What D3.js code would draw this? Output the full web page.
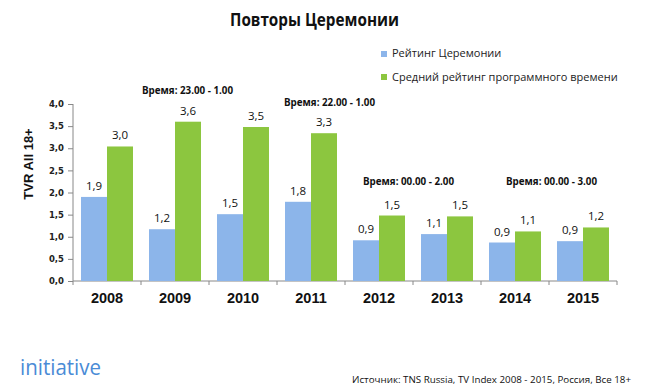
<!DOCTYPE html>
<html><head><meta charset="utf-8">
<script src="https://cdn.jsdelivr.net/npm/d3@7"></script>
<style>body{margin:0;background:#fff}svg{display:block}</style>
</head><body>
<svg id="c" width="652" height="392"></svg>
<script>
const years = ["2008","2009","2010","2011","2012","2013","2014","2015"];
const ceremony = [1.90,1.17,1.51,1.79,0.92,1.06,0.87,0.90];
const slotAvg = [3.04,3.60,3.48,3.34,1.48,1.46,1.12,1.21];
const seriesNames = ["Рейтинг Церемонии","Средний рейтинг программного времени"];
const yTicks = [0,0.5,1,1.5,2,2.5,3,3.5,4];
const noteYears = ["2009","2011","2012","2014"];
const noteTexts = ["Время: 23.00 - 1.00","Время: 22.00 - 1.00","Время: 00.00 - 2.00","Время: 00.00 - 3.00"];
const colors = ["#8cb5ea","#8cc63f"];

const svg = d3.select("#c");
const x = d3.scaleBand().domain(years).range([73,617]).paddingInner(0).paddingOuter(0);
const y = d3.scaleLinear().domain([0,4]).range([281,104]);
const inner = d3.scaleBand().domain([0,1]).range([8, x.bandwidth()-8]);
const fmt = v => d3.format(".1f")(v).replace(".", ",");

// title
svg.append("text").attr("x",314.5).attr("y",26).attr("text-anchor","middle")
  .attr("font-family","'Open Sans', sans-serif").attr("font-weight","bold").attr("font-size",17)
  .attr("textLength",169).attr("lengthAdjust","spacingAndGlyphs")
  .attr("fill","#111").text("Повторы Церемонии");

// y axis
const ya = svg.append("g").attr("transform","translate(73,0)")
  .call(d3.axisLeft(y).tickValues(yTicks).tickSize(5).tickPadding(4).tickFormat(fmt));
ya.select(".domain").attr("stroke","#888").attr("d","M0,104V281");
ya.selectAll(".tick line").attr("stroke","#888");
ya.selectAll("text").attr("font-family","Verdana, 'DejaVu Sans', sans-serif").attr("font-size",8.5)
  .attr("font-weight","bold").attr("fill","#222");

// x axis
const xa = svg.append("g").attr("transform","translate(0,281)")
  .call(d3.axisBottom(x).tickSize(0).tickPadding(12));
xa.select(".domain").attr("stroke","#888").attr("d","M73,0H617");
xa.selectAll("text").attr("font-family","'Liberation Sans', Arial, sans-serif").attr("font-size",14.5)
  .attr("font-weight","bold").attr("fill","#111");
svg.append("g").selectAll("line").data(d3.range(years.length+1)).join("line")
  .attr("x1",i=>73+i*x.bandwidth()).attr("x2",i=>73+i*x.bandwidth())
  .attr("y1",281).attr("y2",285).attr("stroke","#888");

// y title
svg.append("text").attr("transform","translate(33,164) rotate(-90)").attr("text-anchor","middle")
  .attr("font-family","'Liberation Sans', Arial, sans-serif").attr("font-weight","bold").attr("font-size",13)
  .attr("fill","#111").text("TVR All 18+");

// bars
const series = [ceremony, slotAvg];
series.forEach((vals,si)=>{
  const g = svg.append("g");
  g.selectAll("rect").data(vals).join("rect")
    .attr("x",(d,i)=>x(years[i])+inner(si)).attr("width",inner.bandwidth())
    .attr("y",d=>y(d)).attr("height",d=>y(0)-y(d)).attr("fill",colors[si]);
  g.selectAll("text").data(vals).join("text")
    .attr("x",(d,i)=>x(years[i])+inner(si)+inner.bandwidth()/2).attr("y",d=>y(d)-7)
    .attr("text-anchor","middle").attr("font-family","'Open Sans', sans-serif").attr("font-size",11.5)
    .attr("fill","#111").text(fmt);
});

// time notes (layout offsets relative to the anchor year's band)
const noteDx = [1, 7, 18, 25];
const noteY = [94, 106, 185, 185];
svg.append("g").selectAll("text").data(noteTexts).join("text")
  .attr("x",(d,i)=>x(noteYears[i])+noteDx[i]).attr("y",(d,i)=>noteY[i])
  .attr("font-family","'Open Sans', sans-serif").attr("font-weight","bold")
  .attr("font-size",10).attr("textLength",91).attr("lengthAdjust","spacingAndGlyphs")
  .attr("fill","#111").text(d=>d);

// legend
const lg = svg.append("g");
seriesNames.forEach((n,i)=>{
  lg.append("rect").attr("x",381).attr("y",51+i*23).attr("width",6).attr("height",6).attr("fill",colors[i]);
  lg.append("text").attr("x",392).attr("y",57+i*23.5).attr("font-family","'Open Sans', sans-serif")
    .attr("font-size",11).attr("fill","#222").text(n);
});

// footer
svg.append("text").attr("x",20).attr("y",375).attr("font-family","'Open Sans', sans-serif")
  .attr("font-size",21).attr("fill","#4a8bd6").attr("textLength",81).attr("lengthAdjust","spacingAndGlyphs")
  .text("initiative");
svg.append("text").attr("x",352).attr("y",383).attr("font-family","'Open Sans', sans-serif")
  .attr("font-size",9.8).attr("fill","#111").attr("textLength",279).attr("lengthAdjust","spacingAndGlyphs")
  .text("Источник: TNS Russia, TV Index 2008 - 2015, Россия, Все 18+");
</script>
</body></html>
